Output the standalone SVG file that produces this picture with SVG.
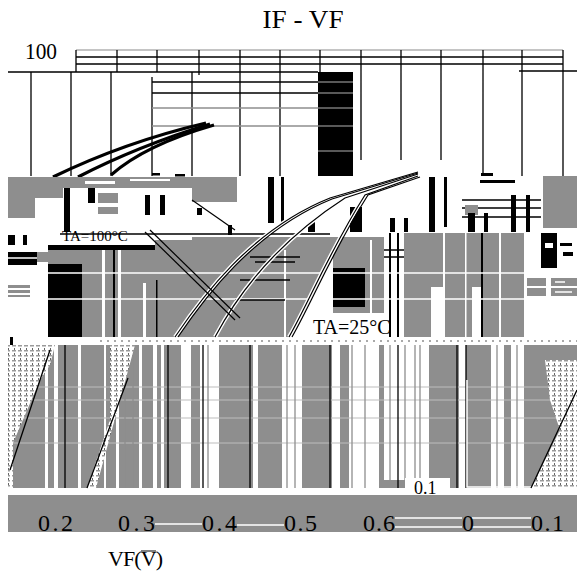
<svg xmlns="http://www.w3.org/2000/svg" width="577" height="573" viewBox="0 0 577 573">
<defs>
<style>
.g{fill:#8e8e8e}
.k{fill:#000}
.w{fill:#fff}
.ln{stroke:#000;stroke-width:1.3;fill:none}
.gl{stroke:#8e8e8e;stroke-width:1.3;fill:none}
.wl{stroke:#fff;fill:none}
.lg{stroke:#bdbdbd;stroke-width:1;fill:none}
.t{font-family:"Liberation Serif",serif;fill:#000}
.h{fill:url(#hatch)}
</style>
<pattern id="hatch" width="6" height="5" patternUnits="userSpaceOnUse">
<rect width="6" height="5" fill="#fff"/>
<rect width="4" height="1.5" fill="#9a9a9a"/>
<rect x="2" y="3" width="1" height="2" fill="#666"/>
</pattern>
</defs>
<rect width="577" height="573" fill="#fff"/>

<g id="title">
<text class="t" x="303" y="28" font-size="26" text-anchor="middle" textLength="81" lengthAdjust="spacingAndGlyphs">IF - VF</text>
<text class="t" x="25" y="59" font-size="24" textLength="32" lengthAdjust="spacingAndGlyphs">100</text>
</g>

<g id="grid">
<path d="M76,50H563" stroke="#b0b0b0" stroke-width="1.3"/>
<path class="ln" d="M76,57H563M76,64H563M8,72H318M519,71H577M76,50V72M117,50V72M157,50V72M199,50V75M240,50V176M280,50V176M320,50V72M361,50V160M401,50V160M441,50V160M483,50V176M522,50V176M563,50V176M31,72V176M71,72V176M111,72V176M152,77V176M192,72V176M152,82H318M152,93H318"/>
<path class="gl" d="M152,108H318M152,126H318"/>
<rect class="k" x="318" y="72" width="35" height="104"/>
<path d="M318,82H353M318,93H353M318,108H353M318,126H353M318,151H353" stroke="#777" stroke-width="1.3"/>
<rect class="k" x="152" y="173" width="8" height="2.5"/>
<rect class="k" x="175" y="174" width="10" height="2.5"/>
<rect class="k" x="481" y="173" width="12" height="3"/>
</g>

<g id="curves-top" fill="none" stroke="#000" stroke-width="3.2">
<path d="M53,177 Q125,142 206,123"/>
<path d="M78,177 Q138,146 210,124"/>
<path d="M111,175 Q145,145 214,125"/>
</g>

<g id="band-upper">
<rect class="g" x="8" y="177" width="229" height="11"/>
<rect class="w" x="85" y="181" width="30" height="3"/>
<rect class="w" x="130" y="179" width="40" height="2"/>
<rect class="g" x="8" y="188" width="27" height="30"/>
<rect class="g" x="35" y="188" width="28" height="10"/>
<rect class="k" x="64" y="188" width="6" height="44"/>
<rect class="k" x="88" y="188" width="7" height="15"/>
<rect class="g" x="98" y="193" width="20" height="10"/>
<rect class="g" x="98" y="207" width="20" height="7"/>
<rect class="k" x="145" y="195" width="5" height="20"/>
<rect class="k" x="160" y="195" width="5" height="20"/>
<rect class="g" x="192" y="188" width="45" height="14"/>
<rect class="k" x="197" y="208" width="5" height="7"/>
<rect class="k" x="268" y="177" width="6" height="46"/>
<rect class="k" x="281" y="177" width="3" height="46"/>
<rect class="k" x="228" y="225" width="4" height="10"/>
<rect class="k" x="308" y="222" width="7" height="10"/>
<rect class="k" x="350" y="207" width="12" height="25"/>
<rect class="k" x="390" y="218" width="5" height="14"/>
<rect class="k" x="404" y="218" width="4" height="14"/>
<rect class="k" x="429" y="177" width="6" height="55"/>
<rect class="k" x="444" y="177" width="3" height="50"/>
<path class="ln" d="M462,200H541M462,208H541M462,217H541" stroke-width="1"/>
<rect class="g" x="465" y="205" width="13" height="10"/>
<rect class="k" x="468" y="213" width="7" height="19"/>
<rect class="k" x="484" y="213" width="4" height="19"/>
<rect class="k" x="511" y="195" width="5" height="37"/>
<rect class="k" x="526" y="195" width="4" height="37"/>
<rect class="k" x="480" y="180" width="35" height="3"/>
<rect class="g" x="543" y="176" width="34" height="52"/>
<rect class="k" x="8" y="235" width="7" height="10"/>
<rect class="k" x="23" y="235" width="4" height="10"/>
<path class="ln" d="M60,234H330"/>
<text class="t" x="62" y="241" font-size="15">TA=100°C</text>
</g>

<g id="band-middle">
<rect class="k" x="48" y="245" width="107" height="5"/>
<rect class="k" x="8" y="252" width="29" height="13"/>
<path class="wl" d="M8,258H37" stroke-width="1.5"/>
<rect class="g" x="37" y="252" width="11" height="10"/>
<rect class="g" x="155" y="240" width="38" height="10"/>
<rect class="g" x="48" y="250" width="336" height="87"/>
<rect class="g" x="192" y="237" width="192" height="13"/>
<rect class="g" x="404" y="233" width="120" height="104"/>
<rect class="g" x="8" y="285" width="22" height="3"/>
<rect class="g" x="8" y="290" width="22" height="3"/>
<rect class="g" x="8" y="295" width="22" height="2"/>
<rect class="k" x="48" y="264" width="34" height="73"/>
<rect class="w" x="102" y="250" width="3" height="87"/>
<rect class="w" x="118" y="250" width="3" height="87"/>
<rect class="w" x="143" y="283" width="3" height="54"/>
<rect class="k" x="113" y="250" width="2" height="87"/>
<rect class="k" x="156" y="280" width="1.5" height="57"/>
<rect class="w" x="284" y="250" width="2" height="87"/>
<rect class="w" x="370" y="240" width="2" height="75"/>
<polygon class="w" points="289,337 302,317 315,290 325,270 333,255 333,337"/>
<rect class="w" x="300" y="313" width="92" height="24"/>
<rect class="k" x="333" y="268" width="32" height="39"/>
<rect class="w" x="431" y="287" width="14" height="50"/>
<rect class="w" x="472" y="287" width="10" height="50"/>
<rect class="w" x="443" y="233" width="2" height="54"/>
<rect class="w" x="465" y="233" width="1.5" height="104"/>
<rect class="w" x="499" y="233" width="2" height="104"/>
<rect class="k" x="481" y="233" width="2" height="104"/>
<rect class="k" x="389" y="233" width="2" height="104"/>
<rect class="k" x="397" y="233" width="2" height="104"/>
<path class="ln" d="M384,250H404M384,257H404" stroke-width="1.5"/>
<path class="wl" d="M48,273H524M48,299H524" stroke-width="1.5"/>
<rect class="k" x="541" y="233" width="16" height="35"/>
<rect class="w" x="545" y="243" width="8" height="5"/>
<rect class="k" x="560" y="243" width="12" height="3"/>
<rect class="k" x="563" y="252" width="10" height="4"/>
<rect class="g" x="527" y="278" width="19" height="8"/>
<rect class="g" x="527" y="288" width="19" height="8"/>
<rect class="g" x="551" y="278" width="26" height="8"/>
<rect class="g" x="551" y="288" width="26" height="8"/>
<path class="wl" d="M555,282H565M555,292H572" stroke-width="1.5"/>
<path class="ln" d="M250,257H300M255,262H295M240,280H290M235,300H285" stroke-width="1"/>
<text class="t" x="313" y="334" font-size="20">TA=25°C</text>
</g>

<g id="curves-lower" fill="none">
<g stroke="#fff" stroke-width="4">
<path d="M175,337 C200,300 250,230 330,198 L418,172"/>
<path d="M215,337 C240,290 280,240 345,198 L418,174"/>
<path d="M289,337 C310,300 330,250 365,195 L418,176"/>
</g>
<g stroke="#000" stroke-width="1.2">
<path d="M175,337 C200,300 250,230 330,198 L418,172"/>
<path d="M178,337 C203,300 253,231 332,199 L418,173"/>
<path d="M215,337 C240,290 280,240 345,198 L418,174"/>
<path d="M289,337 C310,300 330,250 365,195 L418,176"/>
<path d="M292,337 C313,300 333,250 368,195 L420,177"/>
<path d="M145,232 L235,320"/>
<path d="M150,230 L240,318"/>
<path d="M192,200 L235,230"/>
</g>
</g>

<g id="band-lower">
<path d="M100,341H577" stroke="#555" stroke-width="1" stroke-dasharray="2 5"/>
<rect class="k" x="10" y="337" width="3" height="13"/>
<rect class="g" x="8" y="345" width="569" height="143"/>
<g class="w">
<rect x="45" y="345" width="3" height="143"/>
<rect x="54" y="345" width="4" height="143"/>
<rect x="78" y="345" width="3" height="143"/>
<rect x="104" y="345" width="2" height="143"/>
<rect x="116" y="345" width="3" height="143"/>
<rect x="139" y="345" width="3" height="143"/>
<rect x="153" y="345" width="4" height="143"/>
<rect x="161" y="345" width="3" height="143"/>
<rect x="181" y="345" width="10" height="143"/>
<rect x="200" y="345" width="19" height="143"/>
<rect x="253" y="345" width="5" height="143"/>
<rect x="282" y="345" width="20" height="143"/>
<rect x="332" y="345" width="8" height="143"/>
<rect x="349" y="345" width="30" height="143"/>
<rect x="384" y="345" width="45" height="135"/>
<rect x="459" y="345" width="7" height="143"/>
<rect x="491" y="345" width="13" height="143"/>
<rect x="511" y="345" width="13" height="143"/>
</g>
<path class="lg" d="M8,387H577M8,400H577M8,418H577M8,443H577"/>
<path class="gl" d="M208,345V488M287,345V488M295,345V488M352,345V488M365,345V488M390,345V480M405,345V480M415,345V480M420,345V480M125,345V488M133,345V488M497,345V488M517,345V488"/>
<path class="ln" d="M65,345V488M168,345V488M203,345V488M250,345V488M330,345V488M398,345V488M457,345V488M466,345V488" stroke-width="1.5"/>
<path class="wl" d="M467,380V487H577" stroke-width="1.5"/>
<polygon class="h" points="8,345 55,345 50,365 40,380 13,443 13,488 8,488"/>
<polygon class="h" points="110,345 135,345 120,400 96,488 87,488 110,420"/>
<polygon class="h" points="545,360 577,360 577,488 531,488 560,430 550,400"/>
<path class="ln" d="M50,350L10,470M128,378L87,488M577,390L531,488" stroke-width="1"/>
<rect class="w" x="405" y="478" width="45" height="17"/>
<text class="t" x="414" y="494" font-size="18">0.1</text>
</g>

<g id="axis-band">
<rect class="g" x="8" y="495" width="569" height="37"/>
<path class="wl" d="M155,524H202M237,525H284M395,518H462M395,527H462M472,518H531M472,527H531" stroke-width="1.3"/>
<g class="t" font-size="24">
<text x="38" y="531" textLength="35">0.2</text>
<text x="118" y="531" textLength="37">0.3</text>
<text x="202" y="531" textLength="35">0.4</text>
<text x="284" y="531" textLength="33">0.5</text>
<text x="363" y="531" textLength="32">0.6</text>
<text x="462" y="531">0</text>
<text x="531" y="531" textLength="33">0.1</text>
</g>
<text class="t" x="108" y="566" font-size="22" textLength="55">VF(V)</text>
<path d="M141,551H156" stroke="#000" stroke-width="1"/>
</g>
</svg>
